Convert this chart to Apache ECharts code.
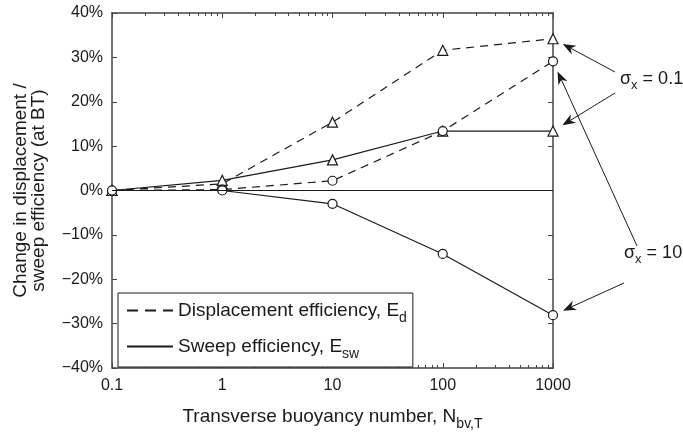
<!DOCTYPE html>
<html>
<head>
<meta charset="utf-8">
<script src="https://cdn.jsdelivr.net/npm/echarts@6/dist/echarts.min.js"></script>
<style>
html, body {margin: 0; padding: 0; background: #fff;}
#chartBox {width: 683px; height: 436px;}
</style>
</head>
<body>
<div id="chartBox"></div>
<script>
// buoyancy number values (log axis)
var xValues = [0.1, 1, 10, 100, 1000];
// sigma_x = 0.1 (triangles)
var dispLow = [0, 1.5, 15.4, 31.6, 34.2];
var sweepLow = [0, 2.3, 6.9, 13.4, 13.4];
// sigma_x = 10 (circles)
var dispHigh = [0, 0.2, 2.2, 13.4, 29.1];
var sweepHigh = [0, 0, -3.0, -14.3, -28.1];

var FONT = 'Liberation Sans';
var INK = '#1a1a1a';

function pairs(ys) {
    return xValues.map(function (x, i) { return [x, ys[i]]; });
}

var chart = echarts.init(document.getElementById('chartBox'));

function mkSeries(name, ys, dashed, symbol, size) {
    return {
        type: 'line', name: name, data: pairs(ys),
        symbol: symbol, symbolSize: size,
        itemStyle: {color: '#fff', borderColor: INK, borderWidth: 1.2},
        lineStyle: {color: INK, width: 1.2, type: dashed ? [8, 6] : 'solid'},
        z: 3, animation: false
    };
}

var series = [
    mkSeries('dl', dispLow, true, 'triangle', 10),
    mkSeries('sl', sweepLow, false, 'triangle', 10),
    mkSeries('dh', dispHigh, true, 'circle', 9),
    mkSeries('sh', sweepHigh, false, 'circle', 9),
    // legend-only entries
    {type: 'line', name: 'disp', data: [], symbol: 'none',
        lineStyle: {color: INK, width: 1.2, type: [11, 7]}, itemStyle: {color: INK}},
    {type: 'line', name: 'sweep', data: [], symbol: 'none',
        lineStyle: {color: INK, width: 1.2}, itemStyle: {color: INK}}
];
// zero reference line
series[0].markLine = {
    silent: true, symbol: 'none', label: {show: false},
    lineStyle: {color: INK, width: 1, type: 'solid'},
    data: [{yAxis: 0}], animation: false
};

var axisCommon = {
    axisLine: {show: true, onZero: false, lineStyle: {color: '#444', width: 1.5}},
    axisTick: {show: true, inside: true, length: 5, lineStyle: {color: '#444'}},
    splitLine: {show: false}
};
var subStyle = function (size, pad) {
    return {sub: {fontFamily: FONT, fontSize: size, color: INK, padding: [pad, 0, 0, 0]}};
};

var option = {
    animation: false,
    grid: {left: 112, right: 130, top: 13, bottom: 64},
    legend: {
        data: ['disp', 'sweep'],
        orient: 'vertical', left: 118, top: 293,
        itemWidth: 46, itemHeight: 10, itemGap: 12,
        padding: [8, 6, 6, 8],
        borderColor: INK, borderWidth: 1, backgroundColor: '#fff',
        selectedMode: false,
        itemStyle: {opacity: 0},
        formatter: function (n) {
            return n === 'disp' ? 'Displacement efficiency, E{sub|d}' : 'Sweep efficiency, E{sub|sw}';
        },
        textStyle: {fontFamily: FONT, fontSize: 19, color: INK, rich: subStyle(14, 15)}
    },
    xAxis: [
        Object.assign({}, axisCommon, {
            type: 'log', logBase: 10, min: 0.1, max: 1000, position: 'bottom',
            minorTick: {show: true, splitNumber: 9, length: 3, lineStyle: {color: '#444'}},
            axisLabel: {fontFamily: FONT, fontSize: 16, color: INK, margin: 10,
                formatter: function (v) { return v < 1 ? '0.1' : String(Math.round(v)); }},
            name: 'Transverse buoyancy number, N{sub|bv,T}',
            nameLocation: 'middle', nameGap: 34,
            nameTextStyle: {fontFamily: FONT, fontSize: 19, color: INK, rich: subStyle(14, 15)}
        }),
        Object.assign({}, axisCommon, {
            type: 'log', logBase: 10, min: 0.1, max: 1000, position: 'top',
            minorTick: {show: true, splitNumber: 9, length: 3, lineStyle: {color: '#444'}},
            axisLabel: {show: false}
        })
    ],
    yAxis: [
        Object.assign({}, axisCommon, {
            type: 'value', min: -40, max: 40, interval: 10, position: 'left',
            axisLabel: {fontFamily: FONT, fontSize: 16, color: INK, margin: 9,
                formatter: function (v) { return (v < 0 ? '\u2212' + (-v) : v) + '%'; }},
            name: 'Change in displacement /\nsweep efficiency (at BT)',
            nameLocation: 'middle', nameGap: 64,
            nameTextStyle: {fontFamily: FONT, fontSize: 19, color: INK, lineHeight: 18}
        }),
        Object.assign({}, axisCommon, {
            type: 'value', min: -40, max: 40, interval: 10, position: 'right',
            axisLabel: {show: false}
        })
    ],
    series: series
};
chart.setOption(option);

// annotation arrows that point at the end markers
function arrow(from, to) {
    var dx = to[0] - from[0], dy = to[1] - from[1];
    var len = Math.sqrt(dx * dx + dy * dy);
    var ux = dx / len, uy = dy / len;
    var tip = [to[0] - ux * 11, to[1] - uy * 11];
    var L = 13, W = 5;
    var base = [tip[0] - ux * L, tip[1] - uy * L];
    var notch = [tip[0] - ux * L * 0.7, tip[1] - uy * L * 0.7];
    return [
        {type: 'line', shape: {x1: from[0], y1: from[1], x2: notch[0], y2: notch[1]},
            style: {stroke: INK, lineWidth: 1}},
        {type: 'polygon', shape: {points: [tip,
            [base[0] - uy * W, base[1] + ux * W], notch,
            [base[0] + uy * W, base[1] - ux * W]]},
            style: {fill: INK}}
    ];
}
function px(ys, i) {
    return chart.convertToPixel({xAxisIndex: 0, yAxisIndex: 0}, [xValues[i], ys[i]]);
}
var last = xValues.length - 1;
var g = [];
g = g.concat(arrow([615, 72], px(dispLow, last)));
g = g.concat(arrow([615, 93], px(sweepLow, last)));
g = g.concat(arrow([637, 246], px(dispHigh, last)));
g = g.concat(arrow([624, 283], px(sweepHigh, last)));
var richSig = subStyle(13, 13);
g.push({type: 'text', left: 620, top: 70, style: {text: '\u03c3{sub|x} = 0.1', font: '18px ' + FONT, fill: INK, rich: richSig}});
g.push({type: 'text', left: 624, top: 244, style: {text: '\u03c3{sub|x} = 10', font: '18px ' + FONT, fill: INK, rich: richSig}});
chart.setOption({graphic: g});
</script>
</body>
</html>
